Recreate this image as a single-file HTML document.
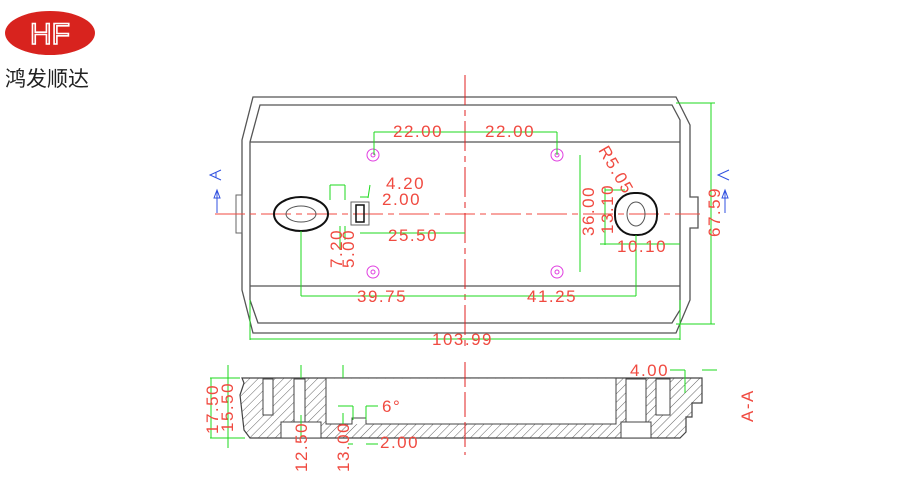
<!DOCTYPE html>
<html><head><meta charset="utf-8"><style>
body{margin:0;background:#fff;width:900px;height:500px;overflow:hidden}
svg{display:block}
.r{fill:#f04a40;font-family:"Liberation Sans",sans-serif;font-size:17px;letter-spacing:1.5px}
.g{stroke:#1ed81e;stroke-width:1;fill:none}
.k{stroke:#555;stroke-width:1.3;fill:none}
</style></head><body>
<svg width="900" height="500" viewBox="0 0 900 500">
<defs>
<pattern id="h" width="6" height="6" patternUnits="userSpaceOnUse" patternTransform="rotate(45)">
<rect width="6" height="6" fill="#fff"/><line x1="0" y1="0" x2="0" y2="6" stroke="#666" stroke-width="1"/></pattern>
</defs>
<!-- logo -->
<ellipse cx="50" cy="33" rx="45" ry="22" fill="#d8231e"/>
<text x="50" y="44" text-anchor="middle" font-family="Liberation Sans,sans-serif" font-size="30" fill="none" stroke="#fff" stroke-width="1.6">HF</text>
<text x="5" y="86" font-family="Liberation Sans,'Noto Sans CJK SC',sans-serif" font-size="21" fill="#222">鸿发顺达</text>

<!-- top view outline -->
<path class="k" d="M253,97 L676,97 L690,125 L690,197 L698,197 L698,228 L690,228 L690,300 L676,333 L253,333 L242,290 L242,140 Z"/>
<path class="k" d="M260,105 L672,105 L680,120 L680,310 L672,323 L258,323 L250,300 L250,142 Z" stroke-width="1"/>
<line class="k" x1="250" y1="142" x2="680" y2="142"/>
<line class="k" x1="250" y1="286" x2="680" y2="286" stroke="#999"/>
<rect x="236" y="195" width="6" height="38" fill="none" stroke="#666"/>
<!-- centerlines -->
<line x1="215" y1="214" x2="700" y2="214" stroke="#f04a40" stroke-dasharray="30,5,6,5"/>
<line x1="465" y1="75" x2="465" y2="350" stroke="#e02020" stroke-dasharray="30,5,6,5"/>
<!-- holes -->
<ellipse cx="301" cy="214" rx="27" ry="17" fill="none" stroke="#111" stroke-width="2"/>
<ellipse cx="301" cy="214" rx="15" ry="8" fill="none" stroke="#555"/>
<rect x="615" y="193" width="42" height="42" rx="19" fill="none" stroke="#111" stroke-width="2"/>
<ellipse cx="636" cy="214" rx="9" ry="12" fill="none" stroke="#555"/>
<rect x="351" y="202" width="18" height="23" fill="none" stroke="#666"/>
<rect x="356" y="205" width="8" height="17" fill="none" stroke="#111" stroke-width="1.5"/>
<g fill="none" stroke="#e040e0">
<circle cx="373" cy="155" r="6"/><circle cx="373" cy="155" r="2"/>
<circle cx="557" cy="155" r="6"/><circle cx="557" cy="155" r="2"/>
<circle cx="373" cy="272" r="6"/><circle cx="373" cy="272" r="2"/>
<circle cx="557" cy="272" r="6"/><circle cx="557" cy="272" r="2"/>
</g>
<!-- A marks -->
<g stroke="#3050e0" fill="none"><line x1="217" y1="190" x2="217" y2="213"/><path d="M214,198 L217,190 L220,198 Z"/><path d="M221,170 L210,175 L221,180"/><line x1="216" y1="172" x2="216" y2="178"/></g>
<g stroke="#3050e0" fill="none"><line x1="725" y1="190" x2="725" y2="213"/><path d="M722,198 L725,190 L728,198 Z"/><path d="M729,170 L718,175 L729,180"/></g>
<!-- dims top -->
<g class="g">
<line x1="374" y1="132" x2="374" y2="155"/><line x1="557" y1="132" x2="557" y2="155"/>
<line x1="374" y1="132" x2="557" y2="132"/>
<line x1="580" y1="155" x2="580" y2="272"/>
<line x1="301" y1="231" x2="301" y2="296"/><line x1="636" y1="235" x2="636" y2="296"/>
<line x1="301" y1="296" x2="636" y2="296"/>
<line x1="360" y1="233" x2="465" y2="233"/>
<line x1="250" y1="300" x2="250" y2="340"/><line x1="680" y1="300" x2="680" y2="340"/>
<line x1="250" y1="339" x2="680" y2="339"/>
<line x1="676" y1="103" x2="715" y2="103"/><line x1="676" y1="324" x2="715" y2="324"/>
<line x1="711" y1="103" x2="711" y2="324"/>
<line x1="605" y1="188" x2="605" y2="245"/><line x1="605" y1="190" x2="625" y2="190"/><line x1="600" y1="244" x2="640" y2="244"/>
<line x1="610" y1="244" x2="680" y2="244"/>
<path d="M330,185 L345,185 M345,185 L345,200 M330,185 L330,200 M370,185 L368,198 M368,197 L360,197 M340,226 L340,250 M345,226 L345,240"/>
</g>
<text class="r" x="393" y="137">22.00</text><text class="r" x="485" y="137">22.00</text>
<text class="r" x="386" y="189">4.20</text><text class="r" x="382" y="205">2.00</text>
<text class="r" x="388" y="241">25.50</text>
<text class="r" x="357" y="302">39.75</text><text class="r" x="527" y="302">41.25</text>
<text class="r" x="432" y="345">103.99</text>
<text class="r" x="617" y="252">10.10</text>
<text class="r" transform="translate(594,236) rotate(-90)">36.00</text>
<text class="r" transform="translate(613,234) rotate(-90)">13.10</text>
<text class="r" transform="translate(720,237) rotate(-90)">67.59</text>
<text class="r" transform="translate(342,268) rotate(-90)">7.20</text>
<text class="r" transform="translate(354,268) rotate(-90)">5.00</text>
<text class="r" transform="translate(598,150) rotate(60)">R5.05</text>

<!-- section view -->
<path d="M242,378 L702,378 L702,403 L692,403 L692,417 L686,417 L686,432 L680,438 L250,438 L244,430 L240,395 L244,383 Z" fill="url(#h)" stroke="#444" stroke-width="1.2"/>
<rect x="326" y="378.6" width="290" height="45.5" fill="#fff"/>
<path d="M326,378 L326,424 L352,424 L352,418 L366,418 L366,424 L616,424 L616,378" fill="none" stroke="#444"/>
<rect x="294" y="379" width="11" height="59" fill="#fff" stroke="#444"/>
<rect x="281" y="422" width="40" height="16" fill="#fff" stroke="#444"/>
<rect x="626" y="379" width="20" height="45" fill="#fff" stroke="#444"/>
<rect x="621" y="422" width="30" height="16" fill="#fff" stroke="#444"/>
<rect x="263" y="379" width="10" height="36" fill="#fff" stroke="#444"/>
<rect x="656" y="379" width="14" height="36" fill="#fff" stroke="#444"/>
<line x1="465" y1="362" x2="465" y2="455" stroke="#e02020" stroke-dasharray="25,5"/>
<g class="g">
<line x1="210" y1="378" x2="240" y2="378"/><line x1="210" y1="438" x2="245" y2="438"/>
<line x1="211" y1="378" x2="211" y2="438"/><line x1="228" y1="365" x2="228" y2="448"/>
<line x1="301" y1="365" x2="301" y2="378"/><line x1="301" y1="415" x2="301" y2="438"/>
<line x1="343" y1="365" x2="343" y2="378"/><line x1="343" y1="413" x2="343" y2="424"/>
<line x1="338" y1="406" x2="353" y2="406"/><line x1="353" y1="406" x2="353" y2="420"/>
<line x1="366" y1="406" x2="378" y2="406"/><line x1="366" y1="406" x2="366" y2="420"/>
<line x1="348" y1="444" x2="353" y2="444"/><line x1="366" y1="444" x2="378" y2="444"/>
<line x1="670" y1="370" x2="685" y2="370"/><line x1="685" y1="370" x2="685" y2="393"/>
<line x1="702" y1="370" x2="717" y2="370"/>
</g>
<text class="r" x="382" y="412">6°</text>
<text class="r" x="380" y="448">2.00</text>
<text class="r" x="630" y="376">4.00</text>
<text class="r" transform="translate(218,434) rotate(-90)">17.50</text>
<text class="r" transform="translate(233,432) rotate(-90)">15.50</text>
<text class="r" transform="translate(307,472) rotate(-90)">12.50</text>
<text class="r" transform="translate(349,472) rotate(-90)">13.00</text>
<text class="r" transform="translate(753,422) rotate(-90)">A-A</text>
</svg>
</body></html>
